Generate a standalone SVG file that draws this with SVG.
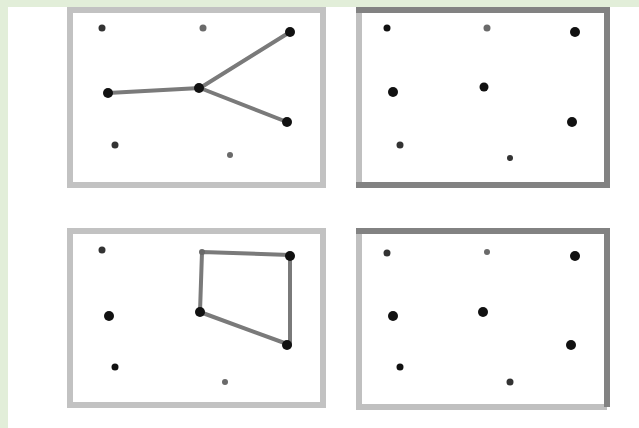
<svg xmlns="http://www.w3.org/2000/svg" width="639" height="428" viewBox="0 0 639 428">
<style>
.panel-l{fill:#ffffff;stroke:#c2c2c2;stroke-width:6}
.dk{stroke:#828282;stroke-width:6;fill:none}
.lt{stroke:#c0c0c0;stroke-width:6;fill:none}
.d{fill:#111111}
.s{fill:#333333}
.g{fill:#6a6a6a}
.edge{stroke:#7a7a7a;stroke-width:4;fill:none;stroke-linecap:round;stroke-linejoin:round}
</style>
<rect width="639" height="428" fill="#ffffff"/>
<rect x="0" y="0" width="639" height="7" fill="#e2eed9"/>
<rect x="0" y="0" width="8" height="428" fill="#e2eed9"/>

<g id="panel-a">
<rect class="panel-l" x="70" y="10" width="253" height="175"/>
</g>
<g id="panel-b">
<rect x="356" y="10" width="251" height="175" fill="#ffffff"/>
<path class="lt" d="M359,185 V10"/>
<path class="dk" d="M356,10 H607 V185 H356"/>
</g>
<g id="panel-c">
<rect class="panel-l" x="70" y="231" width="253" height="174"/>
</g>
<g id="panel-d">
<rect x="356" y="231" width="251" height="176" fill="#ffffff"/>
<path class="lt" d="M359,231 V407 H607"/>
<path class="dk" d="M356,231 H607 V407"/>
</g>

<g id="connectors">
<path class="edge" d="M108,93 L200,88 L290,32"/>
<path class="edge" d="M200,88 L287,122"/>
<path class="edge" d="M202,252 L290,255 L290,345 L200,312 Z"/>
</g>

<g id="a1"><circle class="s" cx="102" cy="28" r="3.5"/></g>
<g id="a2"><circle class="g" cx="203" cy="28" r="3.5"/></g>
<g id="a3"><circle class="d" cx="290" cy="32" r="5"/></g>
<g id="a4"><circle class="d" cx="108" cy="93" r="5"/></g>
<g id="a5"><circle class="d" cx="199" cy="88" r="5"/></g>
<g id="a6"><circle class="d" cx="287" cy="122" r="5"/></g>
<g id="a7"><circle class="s" cx="115" cy="145" r="3.5"/></g>
<g id="a8"><circle class="g" cx="230" cy="155" r="3"/></g>

<g id="b1"><circle class="d" cx="387" cy="28" r="3.5"/></g>
<g id="b2"><circle class="g" cx="487" cy="28" r="3.5"/></g>
<g id="b3"><circle class="d" cx="575" cy="32" r="5"/></g>
<g id="b4"><circle class="d" cx="393" cy="92" r="5"/></g>
<g id="b5"><circle class="d" cx="484" cy="87" r="4.5"/></g>
<g id="b6"><circle class="d" cx="572" cy="122" r="5"/></g>
<g id="b7"><circle class="s" cx="400" cy="145" r="3.5"/></g>
<g id="b8"><circle class="s" cx="510" cy="158" r="3"/></g>

<g id="c1"><circle class="s" cx="102" cy="250" r="3.5"/></g>
<g id="c2"><circle class="g" cx="202" cy="252" r="3"/></g>
<g id="c3"><circle class="d" cx="290" cy="256" r="5"/></g>
<g id="c4"><circle class="d" cx="109" cy="316" r="5"/></g>
<g id="c5"><circle class="d" cx="200" cy="312" r="5"/></g>
<g id="c6"><circle class="d" cx="287" cy="345" r="5"/></g>
<g id="c7"><circle class="d" cx="115" cy="367" r="3.5"/></g>
<g id="c8"><circle class="g" cx="225" cy="382" r="3"/></g>

<g id="d1"><circle class="s" cx="387" cy="253" r="3.5"/></g>
<g id="d2"><circle class="g" cx="487" cy="252" r="3"/></g>
<g id="d3"><circle class="d" cx="575" cy="256" r="5"/></g>
<g id="d4"><circle class="d" cx="393" cy="316" r="5"/></g>
<g id="d5"><circle class="d" cx="483" cy="312" r="5"/></g>
<g id="d6"><circle class="d" cx="571" cy="345" r="5"/></g>
<g id="d7"><circle class="d" cx="400" cy="367" r="3.5"/></g>
<g id="d8"><circle class="s" cx="510" cy="382" r="3.5"/></g>
</svg>
